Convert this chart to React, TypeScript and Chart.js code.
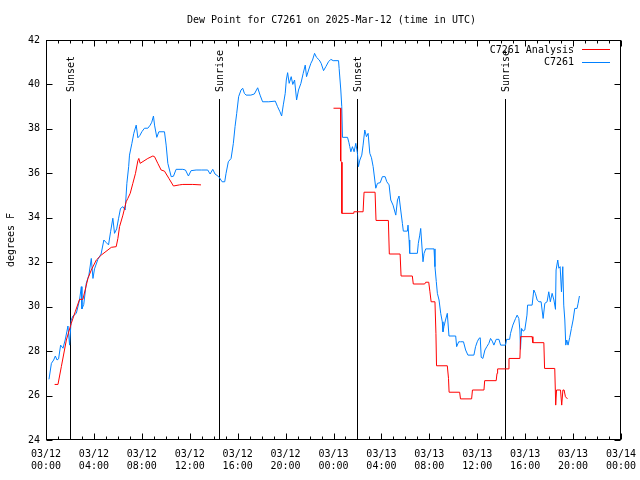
import { useEffect, useRef } from "react";
import { Chart, registerables } from "chart.js";

Chart.register(...registerables);

const FONT = "'DejaVu Sans Mono', 'Liberation Mono', monospace";

const titleText = "Dew Point for C7261 on 2025-Mar-12 (time in UTC)";
const yAxisLabel = "degrees F";
const seriesNames = ["C7261 Analysis", "C7261"];
const seriesColors = ["#ff0000", "#0080ff"];

const xTickLabels = [
  ["03/12", "00:00"], ["03/12", "04:00"], ["03/12", "08:00"], ["03/12", "12:00"],
  ["03/12", "16:00"], ["03/12", "20:00"], ["03/13", "00:00"], ["03/13", "04:00"],
  ["03/13", "08:00"], ["03/13", "12:00"], ["03/13", "16:00"], ["03/13", "20:00"],
  ["03/14", "00:00"],
];

const sunEventHours = [2.0, 14.42, 26.0, 38.33];
const sunEventLabels = ["Sunset", "Sunrise", "Sunset", "Sunrise"];

// hours since 2025-03-12 00:00 UTC
const obsHours = [
  0.25, 0.45, 0.64, 0.78, 0.92, 1.05, 1.22, 1.42, 1.6, 1.75, 1.83, 1.97, 2.1, 2.25, 2.53, 2.8, 2.95, 3.0, 3.15, 3.36,
  3.58, 3.78, 3.92, 4.05, 4.33, 4.6, 4.83, 5.0, 5.22, 5.39, 5.58, 5.72, 5.9, 6.06, 6.22, 6.42, 6.61, 6.75, 6.9, 6.97,
  7.17, 7.33, 7.53, 7.67, 7.83, 8.0, 8.22, 8.5, 8.7, 8.83, 8.97, 9.06, 9.25, 9.42, 9.89, 10.03, 10.17, 10.45, 10.64, 10.86,
  11.42, 11.64, 11.89, 12.11, 12.53, 13.0, 13.5, 13.7, 13.92, 14.11, 14.42, 14.7, 14.92, 15.03, 15.22, 15.45, 15.64, 15.78, 15.92, 16.08,
  16.28, 16.42, 16.56, 16.7, 17.1, 17.39, 17.67, 17.87, 18.08, 18.6, 19.14, 19.33, 19.53, 19.67, 19.81, 19.97, 20.06, 20.17, 20.3, 20.47,
  20.6, 20.75, 20.92, 21.08, 21.28, 21.47, 21.64, 21.75, 21.92, 22.11, 22.25, 22.42, 22.58, 22.81, 22.97, 23.17, 23.36, 23.58, 23.78, 23.97,
  24.42, 24.47, 24.61, 24.69, 24.75, 25.17, 25.28, 25.36, 25.45, 25.58, 25.72, 25.86, 26.0, 26.08, 26.2, 26.36, 26.47, 26.61, 26.75, 26.89,
  27.03, 27.17, 27.31, 27.53, 27.67, 27.9, 28.08, 28.31, 28.45, 28.64, 28.78, 28.97, 29.2, 29.34, 29.47, 29.61, 29.75, 29.83, 30.17, 30.22,
  30.31, 30.36, 31.0, 31.08, 31.2, 31.28, 31.47, 31.56, 31.7, 32.39, 32.47, 32.58, 32.67, 32.81, 32.95, 33.08, 33.14, 33.22, 33.35, 33.5,
  33.64, 34.2, 34.28, 34.45, 34.61, 34.85, 35.03, 35.22, 35.72, 35.86, 36.0, 36.14, 36.25, 36.33, 36.47, 36.64, 36.8, 36.97, 37.11, 37.25,
  37.39, 37.58, 37.81, 37.95, 38.36, 38.45, 38.7, 38.78, 38.97, 39.2, 39.33, 39.47, 39.56, 39.61, 39.7, 39.83, 39.97, 40.15, 40.2, 40.58,
  40.72, 40.85, 41.0, 41.15, 41.33, 41.5, 41.64, 41.83, 41.97, 42.1, 42.25, 42.4, 42.53, 42.58, 42.72, 42.81, 42.92, 43.03, 43.14, 43.22,
  43.31, 43.39, 43.47, 43.58, 43.72, 43.86, 44.0, 44.14, 44.33, 44.42, 44.53,
];
const obsDewF = [
  26.73, 27.45, 27.6, 27.78, 27.6, 27.65, 28.27, 28.13, 28.5, 28.9, 29.13, 28.27, 29.4, 29.58, 29.7, 30.3, 30.9, 29.9, 30.1, 31.05,
  31.42, 32.17, 31.27, 31.7, 32.13, 32.37, 33.0, 32.9, 32.78, 33.37, 33.98, 33.3, 33.5, 33.98, 34.42, 34.5, 34.35, 35.55, 36.3, 36.82,
  37.35, 37.8, 38.17, 37.6, 37.7, 37.87, 38.03, 38.03, 38.17, 38.3, 38.58, 38.17, 37.62, 37.87, 37.87, 37.27, 36.45, 35.85, 35.87, 36.18,
  36.18, 36.15, 35.88, 36.12, 36.15, 36.15, 36.15, 35.97, 36.18, 35.97, 35.85, 35.62, 35.62, 36.0, 36.52, 36.67, 37.35, 38.1, 38.7, 39.45,
  39.75, 39.83, 39.6, 39.52, 39.52, 39.57, 39.85, 39.52, 39.22, 39.22, 39.25, 39.0, 38.77, 38.58, 39.08, 39.6, 40.2, 40.53, 40.05, 40.35,
  40.0, 40.2, 39.3, 39.75, 40.05, 40.5, 40.87, 40.35, 40.65, 40.95, 41.1, 41.4, 41.22, 41.1, 40.95, 40.62, 40.8, 41.02, 41.13, 41.07,
  41.07, 40.72, 39.75, 39.0, 37.62, 37.62, 37.4, 37.2, 36.97, 37.2, 36.97, 37.35, 36.9, 36.3, 36.6, 36.82, 37.27, 37.95, 37.65, 37.8,
  36.9, 36.7, 36.3, 35.33, 35.55, 35.58, 35.85, 35.85, 35.62, 35.48, 34.8, 34.57, 34.12, 34.8, 34.98, 34.35, 33.75, 33.4, 33.4, 33.67,
  33.0, 32.4, 32.4, 32.85, 33.22, 33.52, 32.02, 32.4, 32.6, 32.6, 31.8, 31.13, 30.6, 30.3, 29.7, 29.32, 28.87, 29.1, 29.4, 29.7,
  28.68, 28.68, 28.2, 28.42, 28.42, 28.42, 28.05, 27.82, 27.82, 28.2, 28.42, 28.57, 28.6, 27.72, 27.67, 28.05, 28.2, 28.35, 28.57, 28.45,
  28.27, 28.53, 28.53, 28.27, 28.27, 28.53, 28.53, 28.8, 29.17, 29.47, 29.62, 29.47, 28.95, 28.08, 29.02, 28.9, 28.95, 29.62, 30.07, 30.07,
  30.75, 30.6, 30.3, 30.22, 30.22, 29.47, 30.15, 30.22, 30.67, 30.22, 30.6, 30.3, 29.88, 31.65, 32.1, 31.73, 31.8, 30.67, 31.8, 30.07,
  29.4, 28.27, 28.5, 28.27, 28.62, 29.02, 29.4, 29.92, 29.92, 30.15, 30.48,
];

const anaHours = [
  0.72, 1.0, 1.28, 1.7, 2.11, 2.44, 2.8, 3.08, 3.5, 3.78, 4.2, 4.61, 5.45, 5.86, 6.0, 6.14, 6.42, 6.69, 6.83, 7.03,
  7.25, 7.47, 7.67, 7.75, 7.86, 8.5, 8.92, 9.06, 9.33, 9.61, 9.89, 10.25, 10.64, 11.14, 11.42, 12.25, 12.94, 18.0,
  24.0, 24.6, 24.6, 24.7, 24.7, 25.64, 25.7, 26.47, 26.55, 27.47, 27.55, 28.58, 28.66, 29.56, 29.64, 30.58, 30.66, 31.61,
  31.7, 31.95, 32.05, 32.15, 32.47, 32.55, 32.6, 33.5, 33.6, 33.65, 34.53, 34.6, 35.53, 35.6, 36.56, 36.62, 37.58, 37.65,
  37.7, 38.58, 38.65, 39.56, 39.62, 40.58, 40.64, 41.56, 41.62, 42.47, 42.55, 42.62, 42.95, 43.05, 43.15, 43.25, 43.36, 43.53,
];
const anaDewF = [
  26.5, 26.5, 27.3, 28.5, 29.25, 29.77, 30.33, 30.33, 31.27, 31.65, 32.1, 32.32, 32.67, 32.7, 33.07, 33.6, 34.12, 34.72, 34.87, 35.1,
  35.55, 36.0, 36.57, 36.67, 36.45, 36.67, 36.78, 36.75, 36.45, 36.15, 36.1, 35.78, 35.43, 35.48, 35.5, 35.5, 35.48, null,
  38.93, 38.93, 36.55, 36.5, 34.2, 34.2, 34.27, 34.27, 35.15, 35.15, 33.88, 33.88, 32.37, 32.37, 31.38, 31.38, 31.02, 31.02,
  31.1, 31.1, 30.67, 30.22, 30.22, 28.8, 27.34, 27.34, 26.77, 26.15, 26.15, 25.85, 25.85, 26.25, 26.25, 26.67, 26.67, 27.0,
  27.2, 27.2, 27.67, 27.67, 28.65, 28.65, 28.38, 28.38, 27.22, 27.22, 25.57, 26.25, 26.25, 25.57, 26.25, 26.25, 25.95, 25.85,
];

const decorations = {
  id: "gnuplotDecor",
  beforeDatasetsDraw(chart: any) {
    const { ctx, chartArea: a, scales } = chart;
    const x = scales.x;
    ctx.save();
    ctx.strokeStyle = "#000";
    ctx.fillStyle = "#000";
    ctx.lineWidth = 1;
    ctx.font = `10px ${FONT}`;
    sunEventHours.forEach((h, i) => {
      const px = Math.round(x.getPixelForValue(h)) + 0.5;
      ctx.beginPath();
      ctx.moveTo(px, a.top + 59);
      ctx.lineTo(px, a.bottom);
      ctx.stroke();
      ctx.save();
      ctx.translate(px + 1, a.top + 52);
      ctx.rotate(-Math.PI / 2);
      ctx.textAlign = "left";
      ctx.textBaseline = "middle";
      ctx.fillText(sunEventLabels[i], 0, 0);
      ctx.restore();
    });
    ctx.restore();
  },
  afterDraw(chart: any) {
    const { ctx, chartArea: a, scales } = chart;
    const x = scales.x;
    const y = scales.y;
    ctx.save();
    ctx.strokeStyle = "#000";
    ctx.fillStyle = "#000";
    ctx.lineWidth = 1;
    const L = Math.round(a.left) + 0.5;
    const R = Math.round(a.right) - 0.5;
    const T = Math.round(a.top) + 0.5;
    const B = Math.round(a.bottom) - 0.5;
    ctx.beginPath();
    for (let h = 0; h <= 48; h += 1) {
      const px = Math.round(x.getPixelForValue(h)) + 0.5;
      const len = h % 4 === 0 ? 6 : 3;
      ctx.moveTo(px, B);
      ctx.lineTo(px, B - len);
      ctx.moveTo(px, T);
      ctx.lineTo(px, T + len);
    }
    for (let v = 24; v <= 42; v += 2) {
      const py = Math.round(y.getPixelForValue(v)) + 0.5;
      ctx.moveTo(L, py);
      ctx.lineTo(L + 6, py);
      ctx.moveTo(R, py);
      ctx.lineTo(R - 6, py);
    }
    ctx.stroke();
    ctx.strokeRect(L, T, R - L, B - T);

    ctx.font = `10px ${FONT}`;
    // title
    ctx.textAlign = "center";
    ctx.textBaseline = "middle";
    ctx.fillText(titleText, (a.left + a.right) / 2 - 2, 20);

    // y axis label
    ctx.save();
    ctx.translate(11, (a.top + a.bottom) / 2);
    ctx.rotate(-Math.PI / 2);
    ctx.textAlign = "center";
    ctx.textBaseline = "middle";
    ctx.fillText(yAxisLabel, 0, 0);
    ctx.restore();

    // legend
    ctx.textAlign = "right";
    ctx.textBaseline = "middle";
    seriesNames.forEach((name, i) => {
      const ly = a.top + 10 + i * 12.5;
      ctx.fillStyle = "#000";
      ctx.fillText(name, a.right - 47, ly);
      ctx.strokeStyle = seriesColors[i];
      ctx.beginPath();
      ctx.moveTo(a.right - 39, Math.round(ly) - 0.5);
      ctx.lineTo(a.right - 11, Math.round(ly) - 0.5);
      ctx.stroke();
    });
    ctx.restore();
  },
};

export default function App() {
  const ref = useRef<HTMLCanvasElement | null>(null);
  useEffect(() => {
    if (!ref.current) return;
    const chart = new Chart(ref.current, {
      type: "line",
      data: {
        datasets: [
          {
            label: seriesNames[0],
            data: anaHours.map((h, i) => ({ x: h, y: anaDewF[i] })),
            borderColor: seriesColors[0],
            borderWidth: 1,
            pointRadius: 0,
            tension: 0,
            spanGaps: false,
          },
          {
            label: seriesNames[1],
            data: obsHours.map((h, i) => ({ x: h, y: obsDewF[i] })),
            borderColor: seriesColors[1],
            borderWidth: 1,
            pointRadius: 0,
            tension: 0,
          },
        ],
      },
      options: {
        responsive: false,
        animation: false,
        events: [],
        layout: { padding: { left: 0, right: 19, top: 40, bottom: 0 } },
        plugins: {
          legend: { display: false },
          tooltip: { enabled: false },
          title: { display: false },
        },
        scales: {
          x: {
            type: "linear",
            min: 0,
            max: 48,
            grid: { display: false, drawTicks: false },
            border: { display: false },
            afterFit: (s: any) => {
              s.height = 40;
              s.paddingLeft = 0;
              s.paddingRight = 0;
            },
            ticks: {
              stepSize: 4,
              autoSkip: false,
              maxRotation: 0,
              padding: 8,
              color: "#000",
              font: { family: FONT, size: 10, lineHeight: 1.2 },
              callback: (v: any) => xTickLabels[Math.round(Number(v) / 4)],
            },
          },
          y: {
            min: 24,
            max: 42,
            grid: { display: false, drawTicks: false },
            border: { display: false },
            afterFit: (s: any) => {
              s.width = 46;
              s.paddingTop = 0;
              s.paddingBottom = 0;
            },
            ticks: {
              stepSize: 2,
              padding: 6,
              color: "#000",
              font: { family: FONT, size: 10 },
            },
          },
        },
      },
      plugins: [decorations],
    });
    return () => chart.destroy();
  }, []);
  return (
    <div style={{ position: "fixed", left: 0, top: 0, width: 640, height: 480, background: "#fff" }}>
      <canvas ref={ref} width={640} height={480} style={{ width: 640, height: 480 }} />
    </div>
  );
}
